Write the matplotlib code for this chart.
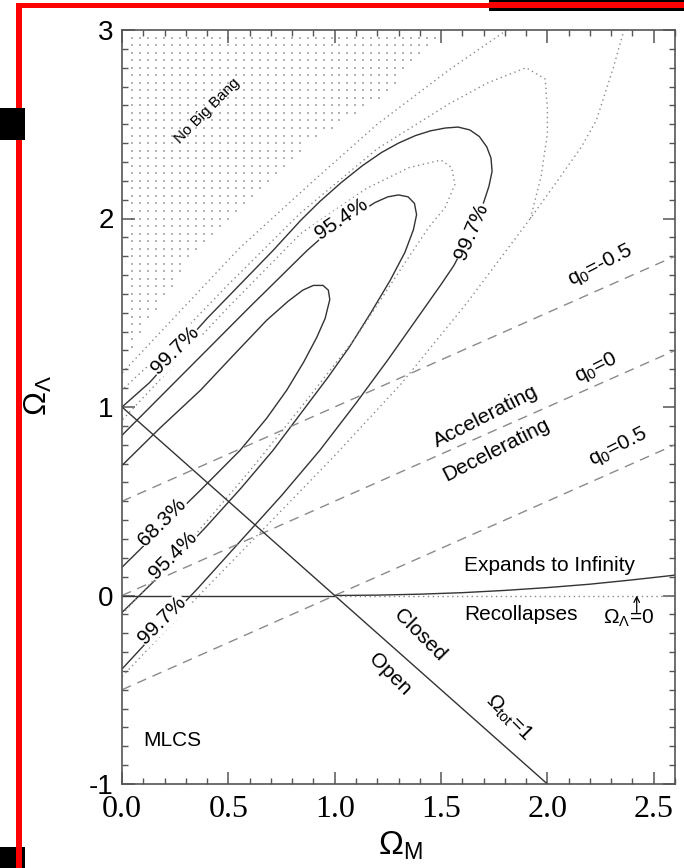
import numpy as np
import matplotlib.pyplot as plt
from matplotlib.patches import Rectangle
from matplotlib.ticker import MultipleLocator

plt.rcParams['font.family'] = ['Liberation Sans', 'DejaVu Sans']
plt.rcParams['mathtext.fontset'] = 'custom'
plt.rcParams['mathtext.rm'] = 'Liberation Sans'
plt.rcParams['mathtext.it'] = 'Liberation Sans:italic'

# MLCS confidence contours (Omega_M, Omega_Lambda): lower branch -> tip -> upper branch
mlcs_683 = [(0.00, 0.15), (0.18, 0.35), (0.37, 0.56), (0.555, 0.77), (0.68, 0.94), (0.775, 1.09),
            (0.855, 1.24), (0.916, 1.37), (0.955, 1.47), (0.977, 1.57), (0.97, 1.62), (0.945, 1.645),
            (0.90, 1.645), (0.85, 1.62), (0.78, 1.56), (0.68, 1.46), (0.52, 1.27), (0.37, 1.09),
            (0.18, 0.89), (0.00, 0.69)]
mlcs_954 = [(0.00, -0.09), (0.20, 0.13), (0.40, 0.37), (0.56, 0.57), (0.71, 0.77), (0.85, 0.98),
            (0.97, 1.16), (1.07, 1.32), (1.17, 1.50), (1.26, 1.67), (1.33, 1.82), (1.37, 1.94),
            (1.385, 2.02), (1.375, 2.08), (1.345, 2.115), (1.30, 2.125), (1.25, 2.115), (1.19, 2.085),
            (1.10, 2.02), (0.97, 1.93), (0.87, 1.83), (0.60, 1.53), (0.30, 1.19), (0.00, 0.85)]
mlcs_997 = [(0.00, -0.39), (0.18, -0.17), (0.35, 0.03), (0.55, 0.28), (0.75, 0.53), (0.93, 0.77),
            (1.10, 1.02), (1.25, 1.25), (1.40, 1.49), (1.50, 1.65), (1.56, 1.75), (1.63, 1.90),
            (1.69, 2.05), (1.725, 2.17), (1.74, 2.25), (1.735, 2.32), (1.715, 2.38), (1.68, 2.435),
            (1.635, 2.47), (1.58, 2.485), (1.52, 2.48), (1.45, 2.465), (1.38, 2.44), (1.30, 2.40),
            (1.22, 2.35), (1.13, 2.28), (1.03, 2.19), (0.93, 2.09), (0.84, 1.99), (0.71, 1.83),
            (0.40, 1.47), (0.13, 1.13), (0.00, 1.00)]

# second fit, dotted contours
alt_683 = [(0.00, -0.10), (0.35, 0.33), (0.60, 0.66), (0.85, 1.01), (1.10, 1.37), (1.31, 1.73),
           (1.44, 1.95), (1.52, 2.06), (1.565, 2.18), (1.55, 2.27), (1.50, 2.31), (1.35, 2.27),
           (1.15, 2.16), (0.84, 1.92), (0.50, 1.53), (0.20, 1.17), (0.00, 0.93)]
alt_954 = [(1.92, 2.00), (1.97, 2.22), (2.00, 2.45), (2.00, 2.58), (1.99, 2.74), (1.90, 2.80),
           (1.72, 2.72), (1.54, 2.61), (1.20, 2.37), (0.84, 2.03), (0.50, 1.65), (0.20, 1.30),
           (0.00, 1.09)]
alt_997 = [(0.00, -0.43), (0.37, 0.01), (0.99, 0.73), (1.31, 1.12), (1.62, 1.55), (1.92, 2.00),
           (2.06, 2.22), (2.16, 2.38), (2.23, 2.52), (2.31, 2.80), (2.36, 3.00)]
alt_997_top = [(1.81, 3.00), (1.54, 2.79), (1.20, 2.50), (0.90, 2.20), (0.55, 1.84), (0.25, 1.48),
               (0.00, 1.18)]

# lower edge of the "No Big Bang" region
nbb_om = [0.00, 0.05, 0.33, 0.60, 0.88, 1.20, 1.40, 1.60]
nbb_ol = [1.25, 1.32, 1.80, 2.10, 2.41, 2.62, 2.85, 3.05]

# deceleration parameter lines
q0_values = [-0.5, 0.0, 0.5]
q0_labels = [r'q$_0$=-0.5', r'q$_0$=0', r'q$_0$=0.5']

# recollapse boundary for Omega_M > 1
rec_om = [1.0, 1.2, 1.4, 1.6, 1.8, 2.0, 2.2, 2.4, 2.6]
rec_ol = [0.0, 0.002, 0.007, 0.015, 0.027, 0.042, 0.060, 0.083, 0.108]

W, H = 684, 868
fig = plt.figure(figsize=(W / 100, H / 100), dpi=100)
ax = fig.add_axes([122 / W, 84 / H, 553 / W, 754 / H])
ax.set_xlim(0, 2.6)
ax.set_ylim(-1, 3)

solid = dict(color='#333333', lw=1.0, solid_capstyle='butt', solid_joinstyle='round')
dotted = dict(color='#8a8a8a', lw=1.0, ls=(0, (1, 2.5)))
dashed = dict(color='#8a8a8a', lw=1.0, ls=(0, (7, 5)))

# dotted shading of the no big bang region
gx = np.arange(0.045, 2.6, 0.0376)
gy = np.arange(2.96, 1.0, -0.04)
GX, GY = np.meshgrid(gx, gy)
edge = np.interp(GX, nbb_om, nbb_ol)
keep = GY > edge
ax.scatter(GX[keep], GY[keep], s=0.7, marker='s', color='#b4b4b4', lw=0)

for c in [mlcs_683, mlcs_954, mlcs_997]:
    c = np.array(c)
    ax.plot(c[:, 0], c[:, 1], **solid)
for c in [alt_683, alt_954, alt_997, alt_997_top]:
    c = np.array(c)
    ax.plot(c[:, 0], c[:, 1], **dotted)

om = np.array([0, 2.6])
for q in q0_values:
    ax.plot(om, om / 2 - q, **dashed)

# flat universe and expansion boundaries
ax.plot([0, 2], [1, -1], **solid)
ax.plot([0, 1.0], [0, 0], **solid)
ax.plot(rec_om, rec_ol, **solid)
ax.plot([1.0, 2.6], [0, 0], **dotted)
ax.annotate('', xy=(2.42, 0.0), xytext=(2.42, -0.09),
            arrowprops=dict(arrowstyle='->', color='black', lw=0.9, shrinkA=0, shrinkB=0))

lab = dict(ha='center', va='center', rotation_mode='anchor', fontsize=15,
           bbox=dict(facecolor='white', edgecolor='none', pad=0.5))
ax.text(0.25, 1.30, '99.7%', rotation=45, **lab)
ax.text(1.03, 2.00, '95.4%', rotation=34, **lab)
ax.text(1.645, 1.93, '99.7%', rotation=67, **lab)
ax.text(0.19, 0.39, '68.3%', rotation=45, **lab)
ax.text(0.24, 0.215, '95.4%', rotation=45, **lab)
ax.text(0.19, -0.13, '99.7%', rotation=45, **lab)

txt = dict(ha='center', va='center', rotation_mode='anchor', fontsize=15)
ax.text(0.40, 2.57, 'No Big Bang', rotation=45, fontsize=11, ha='center', va='center',
        rotation_mode='anchor')
for q, s, x, y in zip(q0_values, q0_labels, [2.25, 2.23, 2.33], [1.75, 1.21, 0.79]):
    ax.text(x, y, s, rotation=27, **txt)
ax.text(1.71, 0.95, 'Accelerating', rotation=27, **txt)
ax.text(1.76, 0.77, 'Decelerating', rotation=27, **txt)
ax.text(2.01, 0.157, 'Expands to Infinity', **txt)
ax.text(1.875, -0.10, 'Recollapses', **txt)
ax.text(2.38, -0.12, r'$\Omega_\Lambda$=0', **txt)
ax.text(1.40, -0.21, 'Closed', rotation=-45, **txt)
ax.text(1.26, -0.42, 'Open', rotation=-45, **txt)
ax.text(1.82, -0.65, r'$\Omega_{\rm tot}$=1', rotation=-45, **txt)
ax.text(0.235, -0.77, 'MLCS', **txt)

ax.xaxis.set_major_locator(MultipleLocator(0.5))
ax.xaxis.set_minor_locator(MultipleLocator(0.1))
ax.yaxis.set_major_locator(MultipleLocator(1))
ax.yaxis.set_minor_locator(MultipleLocator(0.1))
ax.set_xticks(np.arange(0, 2.6, 0.5))
ax.set_xticklabels(['%.1f' % v for v in np.arange(0, 2.6, 0.5)], family='Liberation Serif', fontsize=23)
ax.set_yticks([-1, 0, 1, 2, 3])
ax.set_yticklabels(['-1', '0', '1', '2', '3'], fontsize=20)
ax.tick_params(which='both', direction='in', top=True, right=True, color='#555555')
ax.tick_params(which='major', length=9, width=1.1)
ax.tick_params(which='minor', length=4.5, width=1.0)
ax.tick_params(axis='x', pad=8)
ax.tick_params(axis='y', pad=6)
for s in ax.spines.values():
    s.set_color('#555555')
    s.set_linewidth(1.2)

fig.text(400 / W, 1 - 846 / H, r'$\Omega_{\rm M}$', ha='center', va='center', fontsize=24)
fig.text(38 / W, 1 - 395 / H, r'$\Omega_\Lambda$', ha='center', va='center', fontsize=23, rotation=90)

# frame around the page
ov = fig.add_axes([0, 0, 1, 1], zorder=5)
ov.set_xlim(0, W)
ov.set_ylim(H, 0)
ov.axis('off')
ov.add_patch(Rectangle((0, 847), 25, 21, color='black', lw=0))
ov.add_patch(Rectangle((16, 3), 6, H, color='red', lw=0))
ov.add_patch(Rectangle((16, 3), 474, 5, color='red', lw=0))
ov.add_patch(Rectangle((489, 0), W - 489, 11, color='black', lw=0))
ov.add_patch(Rectangle((489, 1.5), W - 489, 6.5, color='red', lw=0))
ov.add_patch(Rectangle((0, 108), 25, 32, color='black', lw=0))

fig.savefig('out.png', dpi=100)
